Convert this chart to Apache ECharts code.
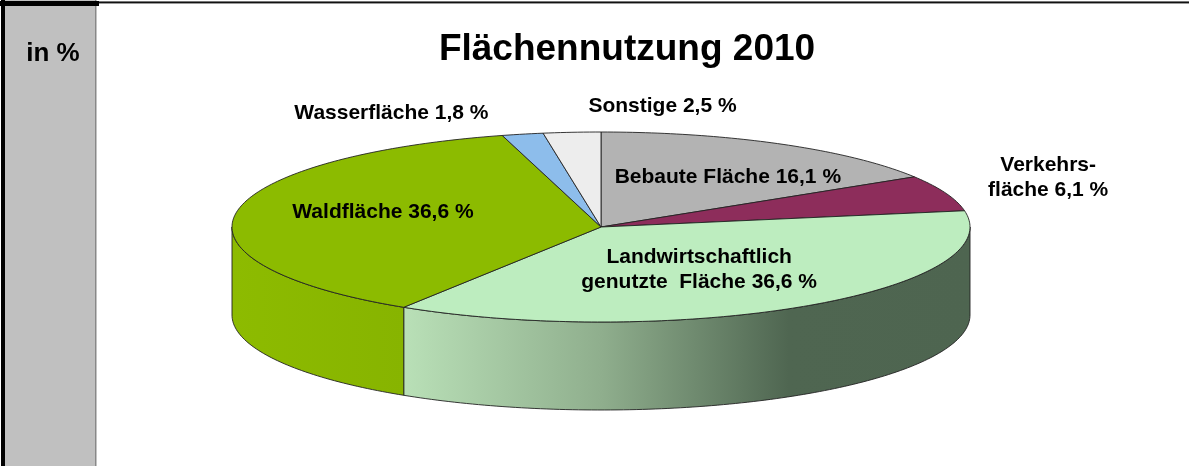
<!DOCTYPE html>
<html>
<head>
<meta charset="utf-8">
<script src="https://cdn.jsdelivr.net/npm/echarts@6/dist/echarts.min.js"></script>
<style>
  html, body { margin: 0; padding: 0; background: #fff; }
  #chart { width: 1189px; height: 466px; }
</style>
</head>
<body>
<div id="chart"></div>
<script>
// Flächennutzung 2010, Anteile in %
const CATEGORIES = ["Bebaute Fläche", "Verkehrs-\nfläche", "Landwirtschaftlich\ngenutzte  Fläche", "Waldfläche", "Wasserfläche", "Sonstige"];
const VALUES = [16.1, 6.1, 36.6, 36.6, 1.8, 2.5];

(function () {
  "use strict";
  const chart = echarts.init(document.getElementById("chart"));

  const FONT = '"Liberation Sans", Arial, sans-serif';
  // Ellipse der Oberseite + Höhe des Zylinders
  const CX = 601, CY = 227, RX = 369, RY = 95, DEPTH = 88;
  const TOP_COLORS = ["#b3b3b3", "#8d2d5b", "#bdedbf", "#8cbb00", "#8dbdeb", "#ededed"];
  const SIDE_COLORS = [
    "#8a8a8a", "#6a1f43",
    { type: "linear", x: 404, y: 0, x2: 970, y2: 0, global: true,
      colorStops: [{ offset: 0, color: "#b9e0b7" }, { offset: 0.35, color: "#8fae8d" }, { offset: 0.68, color: "#4f6651" }, { offset: 1, color: "#4e6550" }] },
    { type: "linear", x: 232, y: 0, x2: 404, y2: 0, global: true,
      colorStops: [{ offset: 0, color: "#8dbb00" }, { offset: 1, color: "#87b400" }] },
    "#6f9cc8", "#c8c8c8",
  ];
  // [Radiusfaktor, Winkelversatz] für die Beschriftung
  const LABEL_PLACE = [[0.63, 4], [1.32, -2.5], [0.52, 3], [0.61, 6], [1.33, -13], [1.28, 12]];

  const total = VALUES.reduce((a, b) => a + b, 0);
  const starts = [];
  let acc = 0;
  VALUES.forEach(v => { starts.push(acc / total * 360); acc += v; });

  const pt = (deg, dy = 0, k = 1) => {
    const r = deg * Math.PI / 180;
    return [CX + k * RX * Math.sin(r), CY - k * RY * Math.cos(r) + dy];
  };
  function arc(a0, a1, dy) {
    const pts = [];
    const n = Math.max(2, Math.ceil(Math.abs(a1 - a0)));
    for (let i = 0; i <= n; i++) pts.push(pt(a0 + (a1 - a0) * i / n, dy));
    return pts;
  }
  const fmt = v => v.toFixed(1).replace(".", ",") + " %";

  function renderItem(params, api) {
    const i = params.dataIndex;
    const v = api.value(0);
    const a0 = starts[i], a1 = a0 + v / total * 360;
    const children = [];
    const w0 = Math.max(a0, 90), w1 = Math.min(a1, 270);
    if (w1 > w0) {
      children.push({
        type: "polygon", z2: 1,
        shape: { points: arc(w0, w1, 0).concat(arc(w1, w0, DEPTH)) },
        style: { fill: SIDE_COLORS[i], stroke: "#222", lineWidth: 0.9 },
      });
    }
    children.push({
      type: "polygon", z2: 2,
      shape: { points: [[CX, CY]].concat(arc(a0, a1, 0)) },
      style: { fill: TOP_COLORS[i], stroke: "#222", lineWidth: 0.9 },
    });
    const [k, off] = LABEL_PLACE[i];
    const [lx, ly] = pt((a0 + a1) / 2 + off, 0, k);
    children.push({
      type: "text", z2: 3, x: lx, y: ly,
      style: { text: CATEGORIES[i] + " " + fmt(v), align: "center", verticalAlign: "middle",
        font: "bold 21px " + FONT, fill: "#000", lineHeight: 25 },
    });
    return { type: "group", children };
  }

  chart.setOption({
    animation: false,
    backgroundColor: "#fff",
    graphic: [
      { type: "rect", shape: { x: 5, y: 0, width: 90, height: 466 }, style: { fill: "#c0c0c0" } },
      { type: "rect", shape: { x: 95, y: 0, width: 1.5, height: 466 }, style: { fill: "#888" } },
      { type: "rect", shape: { x: 1, y: 0, width: 4, height: 466 }, style: { fill: "#000" } },
      { type: "rect", shape: { x: 0, y: 1, width: 99, height: 5 }, style: { fill: "#000" } },
      { type: "rect", shape: { x: 99, y: 1, width: 1090, height: 3 }, style: { fill: "#999" } },
      { type: "rect", shape: { x: 99, y: 1.8, width: 1090, height: 1.2 }, style: { fill: "#111" } },
      { type: "text", x: 53, y: 54, style: { text: "in %", align: "center", verticalAlign: "middle", font: "bold 26px " + FONT, fill: "#000" } },
      { type: "text", x: 627, y: 50, style: { text: "Flächennutzung 2010", align: "center", verticalAlign: "middle", font: "bold 37px " + FONT, fill: "#000" } },
    ],
    series: [{
      type: "custom",
      coordinateSystem: "none",
      renderItem,
      data: VALUES.map(v => [v]),
    }],
  });

  window.addEventListener("resize", () => chart.resize());
})();
</script>
</body>
</html>
